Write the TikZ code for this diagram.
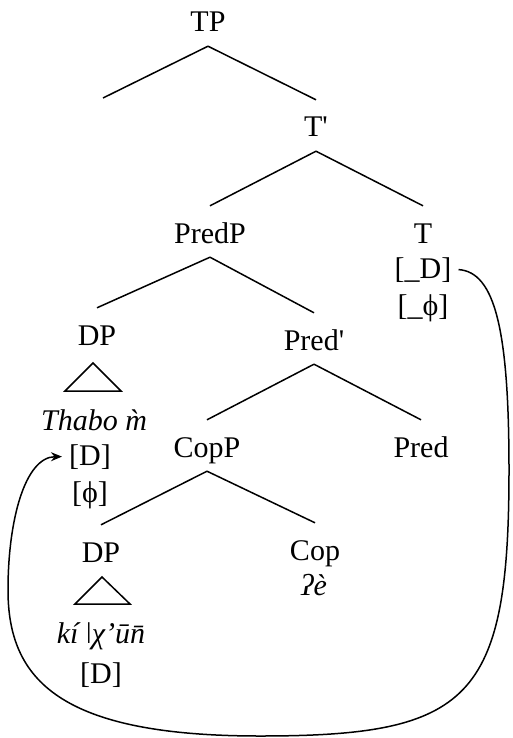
\documentclass[tikz,border=0pt]{standalone}
\usepackage{fontspec}
\setmainfont{Liberation Serif}
\newfontfamily\primefont{Liberation Serif}[Ligatures=ResetAll]
\usetikzlibrary{arrows.meta}

\tikzset{
  cat/.style={font=\fontsize{30}{36}\selectfont, anchor=base, inner xsep=2pt, inner ysep=3pt, text height=34pt, text depth=11pt},
  feat/.style={font=\fontsize{30}{36}\selectfont, anchor=base, inner xsep=7pt, inner ysep=1pt},
  branch/.style={line width=1.5pt},
  tri/.style={line width=1.5pt, line join=miter}
}
\newcommand{\xbar}{{\primefont\symbol{39}}}

\begin{document}
\begin{tikzpicture}[x=1pt,y=1pt,yscale=-1,xscale=1]
\useasboundingbox (0,0) rectangle (513,738);

% Category Nodes
\node[cat] (TP) at (208,32) {TP};
\coordinate (spec) at (103,98);
\node[cat] (Tbar) at (316,137) {T\xbar};
\node[cat] (PredP) at (210,243) {PredP};
\node[cat] (T) at (423,243) {T};
\node[cat] (DPa) at (97,345) {DP};
\node[cat] (PredBar) at (314,350) {Pred\xbar};
\node[cat] (CopP) at (207,457) {CopP};
\node[cat] (Pred) at (421,457) {Pred};
\node[cat] (DPb) at (101,562) {DP};
\node[cat] (Cop) at (315,560) {Cop};

% Feature Nodes
\node[feat] (Tfd) at (423,278) {[\_D]};
\node[feat] (Tfp) at (423,315) {[\_ϕ]};
\node[feat] (thName) at (94,430) {\itshape Thabo m̀};
\node[feat] (thD) at (90,465) {[D]};
\node[feat] (thPhi) at (90,502) {[ϕ]};
\node[feat] (copForm) at (314,595) {\itshape ʔè};
\node[feat] (kiName) at (101,643) {\itshape kí ǀχ’ūn̄};
\node[feat] (kiD) at (101,683) {[D]};

% Branches
\draw[branch] (TP.south) -- (spec);
\draw[branch] (TP.south) -- (Tbar.north);
\draw[branch] (Tbar.south) -- (PredP.north);
\draw[branch] (Tbar.south) -- (T.north);
\draw[branch] (PredP.south) -- (DPa.north);
\draw[branch] (PredP.south) -- (PredBar.north);
\draw[branch] (PredBar.south) -- (CopP.north);
\draw[branch] (PredBar.south) -- (Pred.north);
\draw[branch] (CopP.south) -- (DPb.north);
\draw[branch] (CopP.south) -- (Cop.north);

% Triangles
\draw[tri] (93,363) -- (121,391) -- (65,391) -- cycle;
\draw[tri] (102,577) -- (130,604) -- (75,604) -- cycle;

% Agree arrow
\draw[branch, -{Stealth[length=11pt,width=9pt]}] (Tfd.east) .. controls (495,272) and (509,330) .. (509,470) .. controls (509,700) and (470,736) .. (260,736) .. controls (60,736) and (8,680) .. (8,590) .. controls (8,520) and (25,457) .. (thD.west);

\end{tikzpicture}
\end{document}
